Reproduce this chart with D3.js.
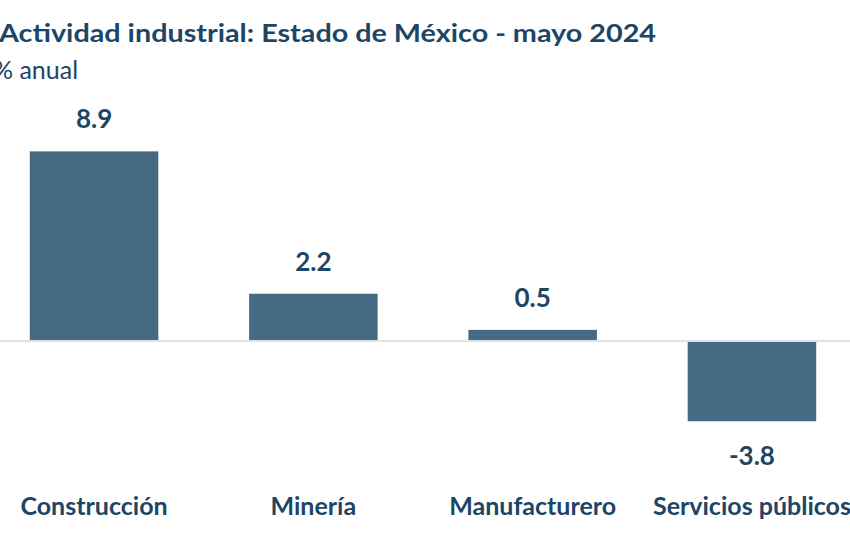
<!DOCTYPE html>
<html>
<head>
<meta charset="utf-8">
<script src="https://cdn.jsdelivr.net/npm/d3@7/dist/d3.min.js"></script>
<style>
  html, body { margin: 0; padding: 0; background: #ffffff; }
  svg { display: block; }
</style>
</head>
<body>
<svg id="chart" width="850" height="550"></svg>
<script>
const categories = ["Construcción", "Minería", "Manufacturero", "Servicios públicos"];
const values = [8.9, 2.2, 0.5, -3.8];
const valueLabels = ["8.9", "2.2", "0.5", "-3.8"];
const title = "Actividad industrial: Estado de México - mayo 2024";
const subtitle = "% anual";

const W = 850, H = 550;
const barColor = "#466a82";
const textColor = "#1d4565";
const font = "Lato, 'Open Sans', sans-serif";

const svg = d3.select("#chart");

const data = categories.map((c, i) => ({ cat: c, value: values[i], label: valueLabels[i] }));

const x = d3.scaleBand()
  .domain(categories)
  .range([-15.6, 861.6])
  .paddingInner(0.414)
  .paddingOuter(0.207);

const y = d3.scaleLinear()
  .domain([-5, 10])
  .range([340.5 + 5 * 21.25, 340.5 - 10 * 21.25]);

// Title
svg.append("text")
  .attr("x", -1).attr("y", 42)
  .attr("font-family", font).attr("font-weight", 700)
  .attr("font-size", 25.5).attr("fill", textColor)
  .attr("textLength", 657).attr("lengthAdjust", "spacingAndGlyphs")
  .text(title);

svg.append("text")
  .attr("x", -7).attr("y", 79)
  .attr("font-family", font).attr("font-weight", 400)
  .attr("font-size", 25).attr("fill", textColor)
  .text(subtitle);

// Bars
svg.append("g").selectAll("rect")
  .data(data)
  .join("rect")
  .attr("x", d => x(d.cat))
  .attr("width", x.bandwidth())
  .attr("y", d => y(Math.max(0, d.value)))
  .attr("height", d => Math.abs(y(d.value) - y(0)))
  .attr("fill", barColor);

// Zero line
svg.append("line")
  .attr("x1", 0).attr("x2", W)
  .attr("y1", y(0) + 0.5).attr("y2", y(0) + 0.5)
  .attr("stroke", "#dbe3ea").attr("stroke-width", 2);

// Value labels
svg.append("g").selectAll("text")
  .data(data)
  .join("text")
  .attr("x", d => x(d.cat) + x.bandwidth() / 2)
  .attr("y", d => d.value >= 0 ? y(d.value) - 23 : y(d.value) + 44)
  .attr("text-anchor", "middle")
  .attr("font-family", font).attr("font-weight", 700)
  .attr("font-size", 26).attr("fill", textColor)
  .text(d => d.label);

// Category labels
svg.append("g").selectAll("text")
  .data(data)
  .join("text")
  .attr("x", d => x(d.cat) + x.bandwidth() / 2)
  .attr("y", 515)
  .attr("text-anchor", "middle")
  .attr("font-family", font).attr("font-weight", 700)
  .attr("font-size", 25).attr("fill", textColor)
  .text(d => d.cat);
</script>
</body>
</html>
